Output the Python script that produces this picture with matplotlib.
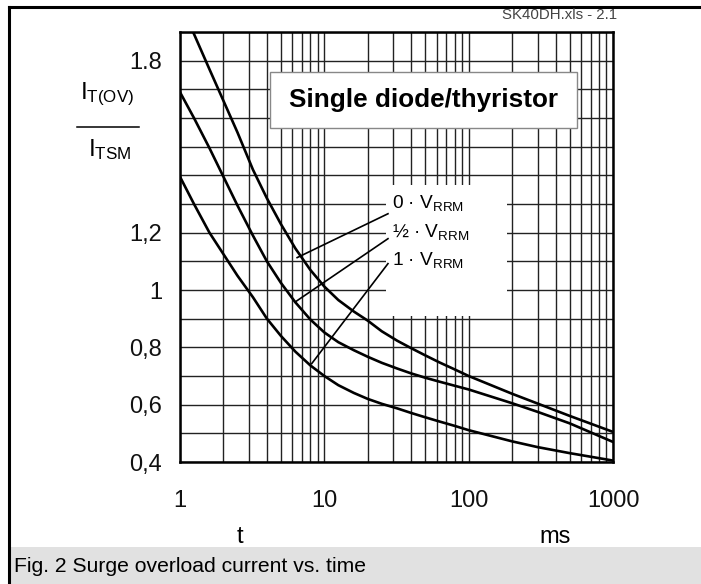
import numpy as np
import matplotlib
matplotlib.use('Agg')
import matplotlib.pyplot as plt
from matplotlib.patches import Rectangle
from matplotlib.lines import Line2D
from matplotlib.ticker import FixedLocator, FixedFormatter, LogLocator, NullFormatter, MultipleLocator

plt.rcParams['font.family'] = ['Liberation Sans', 'DejaVu Sans']
plt.rcParams['mathtext.fontset'] = 'custom'
plt.rcParams['mathtext.rm'] = 'Liberation Sans'

# data (t in ms, ratio I_T(OV)/I_TSM)
t = [1, 1.25, 1.6, 2, 2.5, 3.2, 4, 5, 6.3, 8, 10, 12.5, 16, 20, 25, 32, 40, 50, 63, 80,
     100, 200, 300, 500, 1000]
v_0 = [2.003, 1.893, 1.77, 1.66, 1.55, 1.42, 1.32, 1.23, 1.145, 1.07, 1.012, 0.965, 0.925,
       0.893, 0.856, 0.823, 0.797, 0.772, 0.747, 0.723, 0.70, 0.638, 0.604, 0.561, 0.505]
v_half = [1.69, 1.60, 1.495, 1.395, 1.295, 1.19, 1.10, 1.025, 0.957, 0.897, 0.852, 0.818, 0.79,
          0.767, 0.746, 0.726, 0.709, 0.694, 0.68, 0.666, 0.653, 0.605, 0.575, 0.535, 0.47]
v_1 = [1.395, 1.30, 1.20, 1.125, 1.05, 0.975, 0.90, 0.84, 0.785, 0.737, 0.70, 0.668, 0.641,
       0.62, 0.603, 0.587, 0.571, 0.556, 0.541, 0.526, 0.511, 0.472, 0.452, 0.431, 0.405]

curve_labels = [r'0 · V$_\mathregular{RRM}$', r'½ · V$_\mathregular{RRM}$', r'1 · V$_\mathregular{RRM}$']
label_v = [1.3, 1.2, 1.1]
leader_start = [(6.48, 1.113), (6.27, 0.958), (8.17, 0.743)]
leader_end_v = [1.266, 1.179, 1.092]

xticks = [1, 10, 100, 1000]
xticklabels = ['1', '10', '100', '1000']
yticks = [0.4, 0.6, 0.8, 1.0, 1.2, 1.8]
yticklabels = ['0,4', '0,6', '0,8', '1', '1,2', '1.8']

W, H = 701, 584
fig = plt.figure(figsize=(W / 100, H / 100), dpi=100)

def fx(x):
    return x / W

def fy(y):
    return 1 - y / H

ax = fig.add_axes([fx(180), fy(462), fx(613) - fx(180), fy(32) - fy(462)])
ax.set_xscale('log')
ax.set_xlim(1, 1000)
ax.set_ylim(0.4, 1.9)

ax.xaxis.set_major_locator(FixedLocator(xticks))
ax.xaxis.set_major_formatter(FixedFormatter(xticklabels))
ax.xaxis.set_minor_locator(LogLocator(base=10, subs=np.arange(2, 10)))
ax.xaxis.set_minor_formatter(NullFormatter())
ax.yaxis.set_major_locator(FixedLocator(yticks))
ax.yaxis.set_major_formatter(FixedFormatter(yticklabels))
ax.yaxis.set_minor_locator(MultipleLocator(0.1))
ax.tick_params(which='both', length=0, labelsize=17, colors='#111111')
ax.tick_params(axis='x', pad=20)
ax.tick_params(axis='y', pad=13)
ax.grid(which='both', color='#222222', lw=1.0, zorder=1)
ax.set_axisbelow(True)
for s in ax.spines.values():
    s.set_linewidth(1.8)
    s.set_zorder(6)

for vals in (v_0, v_half, v_1):
    ax.plot(t, vals, color='black', lw=1.9, zorder=4, solid_joinstyle='round')

# title box and white label area hiding the grid
ax.add_patch(Rectangle((0.208, 0.777), 0.709, 0.130, transform=ax.transAxes,
                       facecolor='white', edgecolor='#888888', lw=1.0, zorder=3))
ax.text(0.5625, 0.842, 'Single diode/thyristor', transform=ax.transAxes,
        ha='center', va='center', fontsize=18.8, fontweight='bold', zorder=5)
ax.add_patch(Rectangle((0.476, 0.340), 0.279, 0.304, transform=ax.transAxes,
                       facecolor='white', edgecolor='none', zorder=3))

for lab, lv, (t0, v0), ve in zip(curve_labels, label_v, leader_start, leader_end_v):
    ax.plot([t0, 27.6], [v0, ve], color='black', lw=1.2, zorder=4)
    ax.text(29.5, lv, lab, ha='left', va='center', fontsize=13.8, zorder=5)

# y-axis fraction label
fig.text(fx(107), fy(94), r'$\mathregular{I_{T(OV)}}$', ha='center', va='center', fontsize=17.5)
fig.add_artist(Line2D([fx(77), fx(139)], [fy(127), fy(127)], color='black', lw=1.1))
fig.text(fx(110), fy(150), r'$\mathregular{I_{TSM}}$', ha='center', va='center', fontsize=17.5)

fig.text(fx(240), fy(537), 't', ha='center', va='center', fontsize=17)
fig.text(fx(555), fy(537), 'ms', ha='center', va='center', fontsize=17)
fig.text(fx(502), fy(15), 'SK40DH.xls - 2.1', ha='left', va='center', fontsize=10.8, color='#444444')

# caption band and outer frame
fig.add_artist(Rectangle((fx(10), 0), 1 - fx(10), fy(547), facecolor='#e1e1e1', edgecolor='none',
                         transform=fig.transFigure))
fig.text(fx(14), fy(566), 'Fig. 2 Surge overload current vs. time', ha='left', va='center', fontsize=15.2)
fig.add_artist(Line2D([fx(9), fx(9)], [0, fy(7)], color='black', lw=2.2))
fig.add_artist(Line2D([fx(9), 1], [fy(7), fy(7)], color='black', lw=2.2))

fig.savefig('out.png', dpi=100)
